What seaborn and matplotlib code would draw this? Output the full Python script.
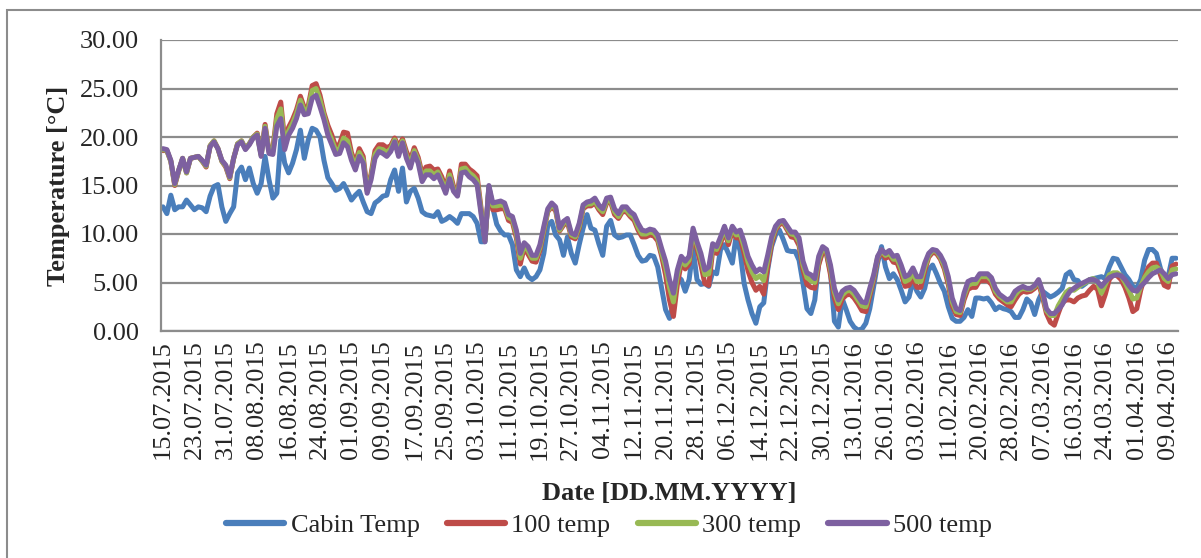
import numpy as np
import pandas as pd
import seaborn as sns
import matplotlib.pyplot as plt
from matplotlib.ticker import MultipleLocator, FormatStrFormatter
from matplotlib.patches import Rectangle

# daily values, one per category on the x axis (0..258)
cabin = [12.8, 12.1, 14.0, 12.5, 12.8, 12.8, 13.5, 13.0, 12.5, 12.8,
         12.7, 12.3, 13.9, 14.9, 15.1, 12.8, 11.3, 12.1, 12.8, 16.3,
         16.9, 15.6, 16.8, 15.2, 14.2, 15.2, 18.0, 15.6, 13.7, 14.2,
         19.7, 17.3, 16.3, 17.3, 18.7, 20.7, 17.8, 19.7, 20.9, 20.7,
         20.0, 17.6, 15.8, 15.2, 14.5, 14.7, 15.2, 14.4, 13.5, 14.0,
         14.4, 13.3, 12.3, 12.1, 13.2, 13.5, 13.9, 14.0, 15.6, 16.6,
         14.4, 16.8, 13.3, 14.4, 14.7, 13.7, 12.3, 12.0, 11.9, 11.8,
         12.3, 11.3, 11.5, 11.8, 11.5, 11.1, 12.1, 12.1, 12.1, 11.8,
         11.1, 9.2, 9.2, 14.9, 12.7, 11.0, 10.3, 9.9, 9.9, 8.9,
         6.3, 5.6, 6.5, 5.6, 5.3, 5.6, 6.3, 8.0, 10.9, 11.3,
         9.9, 9.4, 7.8, 9.7, 8.0, 7.0, 8.9, 10.6, 12.0, 10.6,
         10.4, 9.0, 7.8, 10.8, 11.4, 9.9, 9.6, 9.7, 9.9, 9.9,
         8.9, 7.8, 7.2, 7.3, 7.8, 7.7, 6.6, 4.4, 2.2, 1.3,
         2.8, 5.6, 5.3, 4.1, 5.3, 8.5, 5.3, 4.8, 4.9, 4.6,
         6.1, 5.9, 8.4, 8.9, 8.0, 7.0, 9.9, 8.2, 4.9, 3.2,
         1.8, 0.8, 2.5, 2.9, 6.3, 8.7, 9.9, 10.4, 9.4, 8.3,
         8.2, 8.2, 7.3, 4.9, 2.3, 1.8, 3.2, 7.0, 8.2, 8.0,
         6.1, 1.0, 0.4, 3.3, 2.2, 1.0, 0.4, 0.1, 0.2, 0.8,
         2.3, 4.6, 7.0, 8.7, 6.6, 5.4, 5.9, 5.3, 4.2, 3.0,
         3.5, 5.2, 4.1, 3.5, 4.4, 6.3, 6.8, 5.9, 4.9, 4.1,
         2.5, 1.3, 1.0, 1.0, 1.4, 2.2, 1.5, 3.4, 3.4, 3.3,
         3.4, 2.9, 2.2, 2.5, 2.3, 2.2, 2.0, 1.4, 1.4, 2.2,
         3.3, 2.9, 1.7, 3.2, 4.1, 3.8, 3.5, 3.7, 4.0, 4.4,
         5.8, 6.1, 5.3, 5.2, 4.6, 4.9, 5.3, 5.4, 5.5, 5.6,
         5.4, 6.6, 7.5, 7.4, 6.6, 5.8, 5.3, 4.6, 4.4, 5.3,
         7.3, 8.4, 8.4, 8.0, 6.5, 5.3, 5.6, 7.5, 7.5]

t100 = [18.6, 18.6, 17.5, 15.0, 16.5, 17.8, 16.3, 17.8, 17.9, 18.0,
        17.5, 16.9, 19.1, 19.6, 18.8, 17.5, 16.9, 15.7, 17.8, 19.3,
        19.6, 18.8, 19.3, 20.0, 20.4, 18.2, 21.3, 18.6, 18.8, 22.4,
        23.6, 19.6, 21.0, 21.8, 22.8, 24.2, 23.0, 23.2, 25.3, 25.5,
        24.3, 22.5, 21.2, 20.2, 19.0, 19.3, 20.5, 20.4, 18.4, 17.3,
        18.8, 18.0, 14.5, 16.2, 18.6, 19.2, 19.2, 18.9, 19.1, 19.9,
        19.0, 19.8, 18.5, 17.6, 18.9, 17.9, 16.2, 16.9, 17.0, 16.6,
        16.7, 15.9, 14.7, 16.5, 14.9, 14.2, 17.2, 17.2, 16.7, 16.4,
        16.0, 12.7, 9.4, 14.6, 12.5, 12.5, 12.6, 12.6, 11.4, 11.2,
        9.6, 6.9, 8.6, 7.9, 7.2, 7.1, 8.3, 10.3, 12.3, 12.8,
        12.4, 10.3, 10.9, 11.2, 9.7, 9.5, 10.6, 12.6, 12.9, 12.9,
        13.2, 12.5, 12.0, 13.2, 13.3, 12.0, 11.6, 12.3, 12.3, 11.8,
        11.4, 10.4, 9.7, 9.7, 9.9, 9.8, 9.3, 7.7, 5.8, 3.2,
        1.5, 4.8, 7.0, 6.4, 6.9, 10.0, 8.5, 6.8, 4.9, 4.7,
        8.3, 8.0, 9.0, 10.4, 8.9, 10.3, 9.6, 9.6, 8.0, 6.2,
        5.0, 4.2, 4.6, 3.8, 6.6, 9.0, 10.4, 11.0, 11.1, 10.4,
        9.7, 9.6, 8.8, 6.3, 4.8, 4.5, 4.4, 6.8, 8.2, 7.9,
        5.8, 3.4, 2.2, 3.3, 3.7, 3.8, 3.4, 2.8, 2.1, 2.0,
        3.6, 5.3, 7.4, 8.2, 7.5, 7.7, 7.1, 7.0, 5.9, 4.6,
        4.7, 5.5, 4.5, 4.5, 6.2, 7.6, 8.1, 8.0, 7.4, 6.4,
        4.8, 2.6, 1.7, 1.6, 3.2, 4.3, 4.5, 4.5, 5.2, 5.2,
        5.2, 4.8, 3.8, 3.3, 3.0, 2.7, 2.5, 3.2, 3.8, 4.1,
        4.0, 4.1, 4.4, 4.9, 3.5, 1.8, 0.9, 0.6, 1.8, 2.9,
        3.2, 3.2, 3.0, 3.4, 3.6, 3.7, 4.2, 4.6, 4.3, 2.6,
        3.8, 5.3, 5.8, 5.7, 5.3, 4.5, 3.4, 2.0, 2.3, 4.2,
        5.6, 6.6, 7.0, 7.0, 5.8, 4.7, 4.5, 6.7, 6.9]

t300 = [18.7, 18.6, 17.5, 15.1, 16.5, 17.8, 16.3, 17.8, 17.9, 18.0,
        17.5, 17.0, 19.1, 19.6, 18.8, 17.5, 17.0, 15.8, 17.8, 19.3,
        19.6, 18.8, 19.3, 20.0, 20.3, 18.1, 21.1, 18.5, 18.5, 21.9,
        22.9, 19.2, 20.6, 21.4, 22.4, 23.8, 22.7, 22.9, 24.8, 25.0,
        23.8, 22.2, 20.7, 19.7, 18.6, 18.8, 19.9, 19.6, 18.0, 16.9,
        18.4, 17.6, 14.4, 15.9, 18.2, 18.8, 18.7, 18.4, 18.8, 19.7,
        18.5, 19.6, 18.1, 17.2, 18.6, 17.6, 15.8, 16.5, 16.5, 16.1,
        16.4, 15.5, 14.4, 16.1, 14.6, 14.0, 16.7, 16.8, 16.3, 16.0,
        15.5, 12.4, 9.3, 14.8, 12.9, 12.9, 13.0, 12.9, 11.7, 11.5,
        10.0, 7.5, 8.8, 8.3, 7.5, 7.5, 8.6, 10.5, 12.4, 13.0,
        12.6, 10.4, 11.1, 11.4, 9.9, 9.7, 10.8, 12.8, 13.1, 13.1,
        13.4, 12.7, 12.3, 13.4, 13.5, 12.3, 11.8, 12.5, 12.5, 12.0,
        11.7, 10.7, 10.0, 10.0, 10.2, 10.1, 9.6, 8.1, 6.6, 4.5,
        3.0, 5.7, 7.4, 6.8, 7.3, 10.3, 8.9, 7.5, 5.8, 5.9,
        8.7, 8.4, 9.4, 10.6, 9.3, 10.6, 9.9, 10.0, 8.7, 7.1,
        6.1, 5.4, 5.7, 5.2, 7.3, 9.4, 10.6, 11.2, 11.3, 10.6,
        10.0, 9.9, 9.2, 6.8, 5.5, 5.2, 5.0, 7.3, 8.5, 8.2,
        6.4, 4.0, 2.8, 3.7, 4.1, 4.2, 3.8, 3.2, 2.6, 2.5,
        4.0, 5.6, 7.6, 8.3, 7.8, 8.0, 7.4, 7.4, 6.4, 5.1,
        5.3, 6.0, 5.1, 5.1, 6.6, 7.8, 8.3, 8.2, 7.6, 6.7,
        5.2, 3.0, 2.0, 1.9, 3.6, 4.7, 4.9, 4.9, 5.6, 5.6,
        5.6, 5.2, 4.1, 3.6, 3.3, 3.0, 3.0, 3.7, 4.2, 4.4,
        4.3, 4.3, 4.6, 5.2, 3.8, 2.1, 1.6, 1.6, 2.6, 3.3,
        4.0, 4.3, 4.2, 4.5, 4.8, 5.0, 5.3, 5.4, 5.0, 3.9,
        4.8, 5.8, 6.0, 6.0, 5.7, 5.0, 4.2, 3.3, 3.4, 4.6,
        5.5, 6.1, 6.5, 6.6, 6.3, 5.4, 5.1, 6.3, 6.4]

t500 = [18.8, 18.7, 17.6, 15.2, 16.6, 17.8, 16.4, 17.8, 17.9, 18.0,
        17.6, 17.1, 19.0, 19.5, 18.8, 17.6, 17.1, 15.9, 17.8, 19.2,
        19.5, 18.7, 19.2, 19.9, 20.2, 18.0, 20.9, 18.3, 18.2, 21.1,
        21.9, 18.7, 20.2, 20.9, 21.9, 23.3, 22.3, 22.4, 24.0, 24.3,
        23.1, 21.8, 20.2, 19.2, 18.2, 18.3, 19.4, 19.0, 17.6, 16.6,
        18.0, 17.3, 14.2, 15.6, 17.8, 18.5, 18.3, 18.0, 18.5, 19.5,
        18.0, 19.4, 17.8, 16.8, 18.3, 17.3, 15.4, 16.1, 16.1, 15.7,
        16.1, 15.2, 14.2, 15.7, 14.4, 13.9, 16.3, 16.4, 15.9, 15.6,
        15.1, 12.1, 9.2, 15.0, 13.2, 13.3, 13.4, 13.2, 12.0, 11.8,
        10.4, 8.0, 9.1, 8.7, 7.8, 7.8, 8.9, 10.8, 12.6, 13.2,
        12.8, 10.6, 11.3, 11.6, 10.1, 9.9, 11.1, 13.0, 13.3, 13.4,
        13.7, 13.0, 12.6, 13.7, 13.8, 12.6, 12.1, 12.8, 12.8, 12.3,
        12.0, 11.1, 10.4, 10.3, 10.5, 10.4, 9.9, 8.5, 7.2, 5.3,
        3.9, 6.3, 7.7, 7.2, 7.7, 10.6, 9.2, 8.0, 6.3, 6.6,
        9.0, 8.7, 9.7, 10.8, 9.6, 10.8, 10.2, 10.4, 9.2, 7.7,
        6.8, 6.1, 6.4, 6.1, 7.8, 9.7, 10.8, 11.3, 11.4, 10.8,
        10.2, 10.2, 9.6, 7.2, 6.0, 5.8, 5.4, 7.7, 8.7, 8.4,
        6.8, 4.4, 3.2, 4.1, 4.4, 4.5, 4.2, 3.6, 3.0, 2.9,
        4.4, 5.8, 7.7, 8.4, 8.0, 8.3, 7.7, 7.8, 6.8, 5.6,
        5.8, 6.5, 5.6, 5.6, 7.0, 8.0, 8.4, 8.3, 7.8, 7.0,
        5.6, 3.4, 2.3, 2.1, 3.9, 5.1, 5.3, 5.3, 5.9, 5.9,
        5.9, 5.5, 4.4, 3.8, 3.5, 3.2, 3.4, 4.1, 4.4, 4.6,
        4.4, 4.4, 4.7, 5.3, 4.1, 2.3, 1.8, 1.8, 2.2, 2.7,
        3.5, 4.1, 4.4, 4.7, 4.9, 5.1, 5.3, 5.3, 5.1, 4.6,
        5.1, 5.5, 5.7, 5.8, 5.7, 5.3, 4.7, 4.2, 4.1, 4.6,
        5.0, 5.5, 5.9, 6.1, 6.3, 5.9, 5.4, 5.8, 5.9]

tick_labels = ['15.07.2015', '23.07.2015', '31.07.2015', '08.08.2015', '16.08.2015',
               '24.08.2015', '01.09.2015', '09.09.2015', '17.09.2015', '25.09.2015',
               '03.10.2015', '11.10.2015', '19.10.2015', '27.10.2015', '04.11.2015',
               '12.11.2015', '20.11.2015', '28.11.2015', '06.12.2015', '14.12.2015',
               '22.12.2015', '30.12.2015', '13.01.2016', '26.01.2016', '03.02.2016',
               '11.02.2016', '20.02.2016', '28.02.2016', '07.03.2016', '16.03.2016',
               '24.03.2016', '01.04.2016', '09.04.2016']

series_names = ['Cabin Temp', '100 temp', '300 temp', '500 temp']
colors = ['#4A7EBB', '#BE4B48', '#98B954', '#7D60A0']

df = pd.DataFrame({'Cabin Temp': cabin, '100 temp': t100,
                   '300 temp': t300, '500 temp': t500})
df['day'] = np.arange(len(df))
long = df.melt(id_vars='day', var_name='series', value_name='temp')

sns.set_style('white')
plt.rcParams['font.family'] = ['Liberation Serif', 'DejaVu Serif']

fig = plt.figure(figsize=(12.01, 5.58), dpi=100)
ax = fig.add_axes([161 / 1201, 1 - 331 / 558, (1178 - 161) / 1201, 291 / 558])

sns.lineplot(data=long, x='day', y='temp', hue='series', hue_order=series_names,
             palette=colors, linewidth=3.6, ax=ax, legend=False,
             solid_capstyle='round', solid_joinstyle='round')

gray = '#8c8c8c'
fs = 19
ax.set_xlim(-0.5, len(df) - 0.5)
ax.set_ylim(0, 30)
ax.yaxis.set_major_locator(MultipleLocator(5))
ax.yaxis.set_major_formatter(FormatStrFormatter('%.2f'))
ax.grid(axis='y', color=gray, linewidth=1.6)
ax.grid(axis='x', visible=False)
ax.set_axisbelow(True)
for s in ['top', 'right']:
    ax.spines[s].set_visible(False)
for s in ['left', 'bottom']:
    ax.spines[s].set_color(gray)
    ax.spines[s].set_linewidth(1.6)

ax.set_xticks(range(0, len(df), 8))
ax.set_xticklabels(tick_labels, rotation=90)
ax.set_xticks(np.arange(-0.5, len(df), 1), minor=True)
ax.tick_params(axis='x', which='both', direction='out', length=5, width=1,
               color=gray, labelsize=fs, pad=3)
ax.tick_params(axis='x', which='major', length=0, pad=7)
ax.tick_params(axis='y', direction='out', length=5, width=1.6, color=gray,
               labelsize=fs, pad=11)

ax.set_xlabel('Date [DD.MM.YYYY]', fontsize=fs, fontweight='bold', labelpad=16)
ax.set_ylabel('Temperature [°C]', fontsize=fs, fontweight='bold', labelpad=7)

handles = [plt.Line2D([], [], color=c, linewidth=4.5, solid_capstyle='round')
           for c in colors]
fig.legend(handles, series_names, loc='center', bbox_to_anchor=(609 / 1201, 1 - 525 / 558),
           ncol=4, frameon=False, fontsize=fs, handlelength=2.2, handletextpad=0.25,
           columnspacing=1.03)

fig.patches.append(Rectangle((7 / 1201, -0.05), 1.2, 1.05 - 10 / 558,
                             transform=fig.transFigure, fill=False,
                             edgecolor=gray, linewidth=1.5))

fig.savefig('out.png', dpi=100)
